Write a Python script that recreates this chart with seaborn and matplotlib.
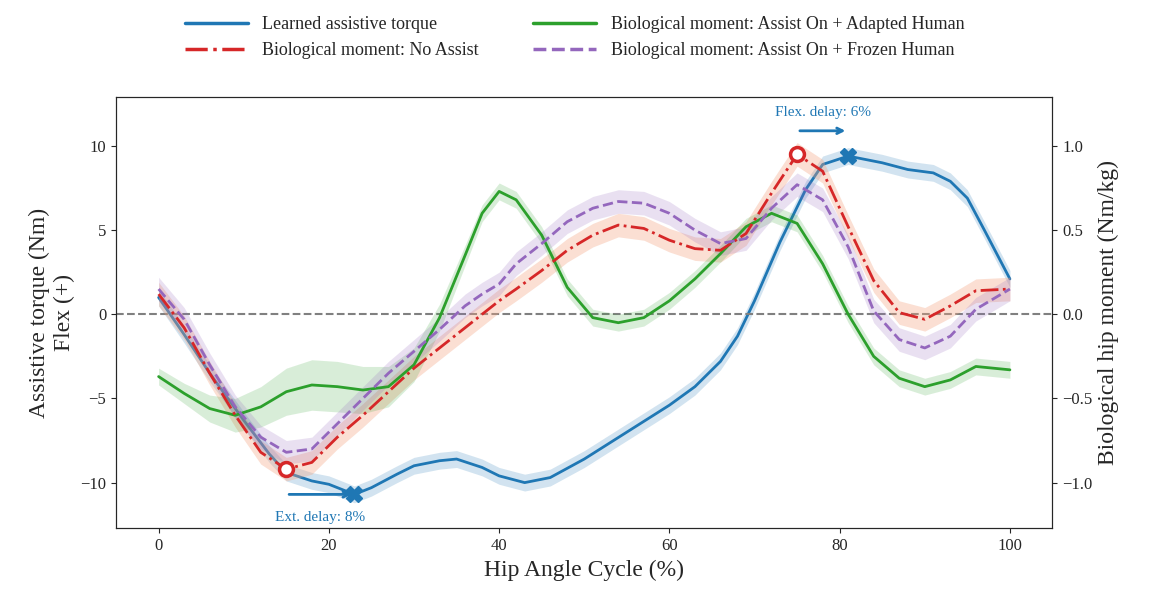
import numpy as np
import pandas as pd
import matplotlib
matplotlib.use("Agg")
import matplotlib.pyplot as plt
import seaborn as sns

sns.set_style("ticks")
plt.rcParams['font.family'] = ['Liberation Serif', 'DejaVu Serif']
plt.rcParams['mathtext.fontset'] = 'stix'

# learned assistive torque (Nm)
blue_x = [0, 3, 6, 10, 13, 15, 18, 20, 23, 25, 28, 30, 33, 35, 38, 40, 43, 46, 50, 55, 60, 63, 66, 68, 70, 73, 76, 78, 81, 85, 88, 91, 93, 95, 97, 100]
blue_y = [1.0, -1.2, -3.5, -6.3, -8.3, -9.4, -9.9, -10.1, -10.7, -10.3, -9.5, -9.0, -8.7, -8.6, -9.1, -9.6, -10.0, -9.7, -8.6, -7.0, -5.4, -4.3, -2.8, -1.3, 0.8, 4.3, 7.4, 8.9, 9.4, 9.0, 8.6, 8.4, 7.9, 6.9, 5.0, 2.1]

# biological moments (Nm/kg)
bio_x = [0, 3, 6, 9, 12, 15, 18, 21, 24, 27, 30, 33, 36, 38, 40, 42, 45, 48, 51, 54, 57, 60, 63, 66, 69, 72, 75, 78, 81, 84, 87, 90, 93, 96, 100]
red_y = [0.12, -0.08, -0.35, -0.6, -0.82, -0.92, -0.88, -0.73, -0.6, -0.46, -0.32, -0.2, -0.08, 0.0, 0.08, 0.15, 0.26, 0.38, 0.47, 0.53, 0.51, 0.44, 0.39, 0.38, 0.48, 0.72, 0.95, 0.85, 0.52, 0.2, 0.01, -0.03, 0.05, 0.14, 0.15]
green_y = [-0.37, -0.47, -0.56, -0.6, -0.55, -0.46, -0.42, -0.43, -0.45, -0.43, -0.3, -0.02, 0.35, 0.6, 0.73, 0.68, 0.47, 0.16, -0.02, -0.05, -0.02, 0.08, 0.21, 0.36, 0.52, 0.6, 0.54, 0.3, 0.0, -0.25, -0.38, -0.43, -0.39, -0.31, -0.33]
purple_y = [0.15, -0.03, -0.3, -0.55, -0.73, -0.82, -0.8, -0.65, -0.5, -0.35, -0.22, -0.09, 0.05, 0.12, 0.18, 0.3, 0.42, 0.55, 0.63, 0.67, 0.66, 0.6, 0.5, 0.42, 0.45, 0.63, 0.77, 0.68, 0.4, 0.02, -0.15, -0.2, -0.13, 0.03, 0.15]
green_band = [0.05, 0.06, 0.08, 0.1, 0.12, 0.14, 0.15, 0.15, 0.14, 0.12, 0.1, 0.08, 0.06, 0.05, 0.05, 0.05, 0.05, 0.05, 0.05, 0.05, 0.05, 0.05, 0.05, 0.05, 0.05, 0.05, 0.05, 0.05, 0.05, 0.05, 0.05, 0.05, 0.05, 0.05, 0.05]

blue_c, red_c, green_c, purple_c = '#1f77b4', '#d62728', '#2ca02c', '#9467bd'

fig = plt.figure(figsize=(11.49, 5.96), dpi=100)
ax = fig.add_axes([0.101, 0.114, 0.815, 0.723])
ax2 = ax.twinx()

df = pd.DataFrame({'x': blue_x, 'y': blue_y})
ax.fill_between(blue_x, np.array(blue_y) - 0.5, np.array(blue_y) + 0.5, color=blue_c, alpha=0.2, lw=0)
sns.lineplot(data=df, x='x', y='y', ax=ax, color=blue_c, lw=2, legend=False)

bio = pd.DataFrame({'x': bio_x, 'red': red_y, 'green': green_y, 'purple': purple_y, 'gb': green_band})
ax2.fill_between(bio_x, bio['red'] - 0.07, bio['red'] + 0.07, color='#f4a582', alpha=0.35, lw=0)
ax2.fill_between(bio_x, bio['green'] - bio['gb'], bio['green'] + bio['gb'], color=green_c, alpha=0.18, lw=0)
ax2.fill_between(bio_x, bio['purple'] - 0.07, bio['purple'] + 0.07, color=purple_c, alpha=0.2, lw=0)
sns.lineplot(data=bio, x='x', y='green', ax=ax2, color=green_c, lw=2)
sns.lineplot(data=bio, x='x', y='red', ax=ax2, color=red_c, lw=2, ls='-.')
sns.lineplot(data=bio, x='x', y='purple', ax=ax2, color=purple_c, lw=2, ls='--')

ax.axhline(0, color='gray', ls='--', lw=1.5)
ax2.plot([15, 75], [-0.92, 0.95], 'o', ms=10, mfc='white', mec=red_c, mew=2.5, zorder=5)
ax.plot([23, 81], [-10.7, 9.4], 'X', ms=12, color=blue_c, zorder=5)

ax.annotate('', xy=(23, -10.7), xytext=(15, -10.7),
            arrowprops=dict(arrowstyle='->', color=blue_c, lw=2))
ax.text(19, -11.7, 'Ext. delay: 8%', color=blue_c, ha='center', va='top', fontsize=11)
ax.annotate('', xy=(81, 10.9), xytext=(75, 10.9),
            arrowprops=dict(arrowstyle='->', color=blue_c, lw=2))
ax.text(78, 11.6, 'Flex. delay: 6%', color=blue_c, ha='center', va='bottom', fontsize=11)

ax.set_xlim(-5, 105)
ax.set_ylim(-12.7, 12.9)
ax2.set_ylim(-1.27, 1.29)
ax.set_yticks([-10, -5, 0, 5, 10])
ax2.set_yticks([-1.0, -0.5, 0.0, 0.5, 1.0])
ax.set_xticks([0, 20, 40, 60, 80, 100])
ax.tick_params(labelsize=12)
ax2.tick_params(labelsize=12)
ax.set_xlabel('Hip Angle Cycle (%)', fontsize=17)
ax.set_ylabel('Assistive torque (Nm)\nFlex (+)', fontsize=17)
ax2.set_ylabel('Biological hip moment (Nm/kg)', fontsize=17)

handles = [
    plt.Line2D([], [], color=blue_c, lw=2.5),
    plt.Line2D([], [], color=red_c, lw=2.5, ls='-.'),
    plt.Line2D([], [], color=green_c, lw=2.5),
    plt.Line2D([], [], color=purple_c, lw=2.5, ls='--'),
]
labels = ['Learned assistive torque', 'Biological moment: No Assist',
          'Biological moment: Assist On + Adapted Human', 'Biological moment: Assist On + Frozen Human']
fig.legend(handles, labels, ncol=2, loc='upper center', bbox_to_anchor=(0.5, 1.0),
           frameon=False, fontsize=13, columnspacing=3, handlelength=3.5)

fig.savefig('out.png', dpi=100)
